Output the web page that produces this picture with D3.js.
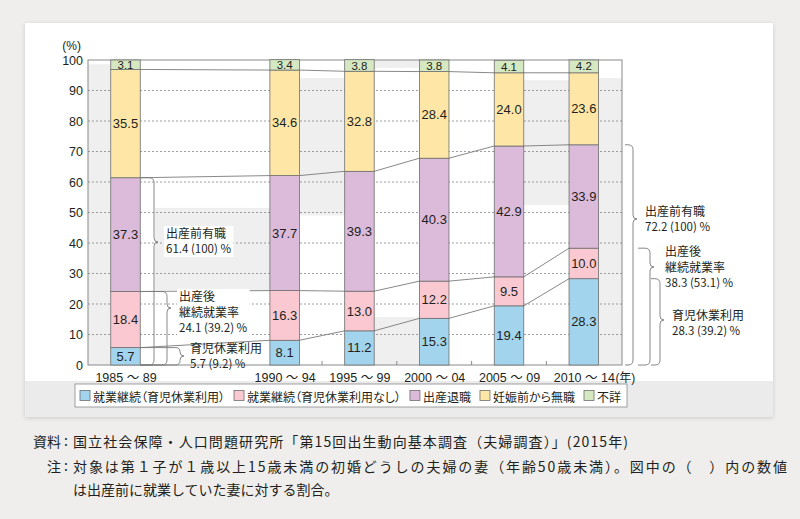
<!DOCTYPE html>
<html><head><meta charset="utf-8">
<script src="https://cdn.jsdelivr.net/npm/d3@7"></script>
<style>
html,body{margin:0;padding:0;background:#efeeec;}
svg{display:block;}
text{font-family:"Liberation Sans","Noto Sans CJK JP",sans-serif;fill:#231f20;}
.jp{font-family:"Noto Sans CJK JP",sans-serif;}
.palt{font-feature-settings:"palt";}
</style></head><body>
<svg id="c" width="800" height="519"></svg>
<script>
// ---------- data ----------
const periods = ["1985～89","1990～94","1995～99","2000～04","2005～09","2010～14"];
const yearSuffix = "(年)";
const seriesNames = ["就業継続（育児休業利用）","就業継続（育児休業利用なし）","出産退職","妊娠前から無職","不詳"];
const leaveUse    = [5.7, 8.1, 11.2, 15.3, 19.4, 28.3];
const noLeave     = [18.4, 16.3, 13.0, 12.2, 9.5, 10.0];
const quitAtBirth = [37.3, 37.7, 39.3, 40.3, 42.9, 33.9];
const noJobBefore = [35.5, 34.6, 32.8, 28.4, 24.0, 23.6];
const unknown     = [3.1, 3.4, 3.8, 3.8, 4.1, 4.2];
const yTicks = [0,10,20,30,40,50,60,70,80,90,100];
const seriesColors = ["#a3d4ee","#f9c8d0","#dcbad9","#fee7a6","#d5e8c1"];
const leftNotes  = [["出産前有職","61.4 (100) %"],["出産後","継続就業率","24.1 (39.2) %"],["育児休業利用","5.7 (9.2) %"]];
const rightNotes = [["出産前有職","72.2 (100) %"],["出産後","継続就業率","38.3 (53.1) %"],["育児休業利用","28.3 (39.2) %"]];
const sourceLabel = "資料";
const noteLabel = "注";
const sourceLine = "国立社会保障・人口問題研究所「第15回出生動向基本調査（夫婦調査）」(2015年)";
const noteLines = ["対象は第１子が１歳以上15歳未満の初婚どうしの夫婦の妻（年齢50歳未満）。図中の（　）内の数値","は出産前に就業していた妻に対する割合。"];

// ---------- layout ----------
const svg = d3.select("#c");
const defs = svg.append("defs");
const f = defs.append("filter").attr("id","sh").attr("x","-5%").attr("y","-5%").attr("width","110%").attr("height","115%");
f.append("feDropShadow").attr("dx",0).attr("dy",1).attr("stdDeviation",2).attr("flood-color","#000").attr("flood-opacity",0.15);

svg.append("rect").attr("x",25).attr("y",23).attr("width",748).attr("height",394).attr("fill","#fff").attr("filter","url(#sh)");
svg.append("rect").attr("x",25).attr("y",381).attr("width",748).attr("height",36).attr("fill","#ebebeb");

const plot = {l:88, r:622, t:60, b:365};
const y = d3.scaleLinear().domain([0,100]).range([plot.b, plot.t]);
const FIRST_GAP = 1.128;
const slot = i => i === 0 ? 0 : i + FIRST_GAP;
const xPos = d3.scaleLinear().domain([0, slot(periods.length-1)]).range([125.5, 583.8]);
const BW = 29.5;
const cx = i => xPos(slot(i));

const table = periods.map((p,i)=>({period:p, s0:leaveUse[i], s1:noLeave[i], s2:quitAtBirth[i], s3:noJobBefore[i], s4:unknown[i]}));
const keys = ["s0","s1","s2","s3","s4"];
const stacked = d3.stack().keys(keys)(table);

// grey decorative patches (gap k = between bar k-1 and bar k)
const patches = [
  {gap:0, v0:0, v1:98.6},
  {gap:1, v0:24.6, v1:51.5, xs:155},
  {gap:2, v0:49, v1:94.1},
  {gap:3, v0:97.4, v1:100},
  {gap:3, v0:0, v1:15.7},
  {gap:5, v0:52.5, v1:93.4},
  {gap:6, v0:0, v1:94.1}
];
const gapL = k => k===0 ? plot.l : cx(k-1)+BW/2;
const gapR = k => k===periods.length ? plot.r : cx(k)-BW/2;
svg.append("g").selectAll("rect").data(patches).join("rect")
  .attr("x", d => d.xs || gapL(d.gap))
  .attr("width", d => gapR(d.gap) - (d.xs || gapL(d.gap)))
  .attr("y", d => y(d.v1)).attr("height", d => y(d.v0)-y(d.v1))
  .attr("fill","#efefef");

// grid
svg.append("g").selectAll("line").data(yTicks.filter(t=>t>0 && t<100)).join("line")
  .attr("x1",plot.l).attr("x2",plot.r).attr("y1",d=>y(d)).attr("y2",d=>y(d))
  .attr("stroke","#858585").attr("stroke-width",0.8).attr("stroke-dasharray","2,2");

// connecting lines
const conn = svg.append("g").attr("fill","none").attr("stroke","#7a7a7a").attr("stroke-width",0.9);
for (let j=0;j<4;j++){
  for (let i=0;i<periods.length-1;i++){
    conn.append("line")
      .attr("x1",cx(i)+BW/2).attr("y1",y(stacked[j][i][1]))
      .attr("x2",cx(i+1)-BW/2).attr("y2",y(stacked[j][i+1][1]));
  }
}

// plot frame
svg.append("rect").attr("x",plot.l).attr("y",plot.t).attr("width",plot.r-plot.l).attr("height",plot.b-plot.t)
  .attr("fill","none").attr("stroke","#8a8a8a").attr("stroke-width",1);

// bars
const layers = svg.append("g").selectAll("g").data(stacked).join("g").attr("fill",(d,j)=>seriesColors[j]);
layers.selectAll("rect").data(d=>d).join("rect")
  .attr("x",(d,i)=>cx(i)-BW/2).attr("width",BW)
  .attr("y",d=>y(d[1])).attr("height",d=>y(d[0])-y(d[1]))
  .attr("stroke","#6e6e6e").attr("stroke-width",0.8);

// value labels
stacked.forEach((layer,j)=>{
  svg.append("g").selectAll("text").data(layer).join("text")
    .attr("x",(d,i)=>cx(i)).attr("y",d=>y((d[0]+Math.min(d[1],100))/2))
    .attr("text-anchor","middle").attr("dominant-baseline","central")
    .attr("font-size", j===4 ? 11.5 : 13)
    .text(d=>d3.format(".1f")(d[1]-d[0]));
});

// y axis
const yAxis = svg.append("g").attr("transform",`translate(${plot.l},0)`)
  .call(d3.axisLeft(y).tickValues(yTicks).tickSize(0).tickPadding(5));
yAxis.select(".domain").remove();
yAxis.selectAll("text").attr("font-size",12.5).attr("font-family",null).attr("fill","#231f20");
svg.append("text").attr("x",81).attr("y",50).attr("text-anchor","end").attr("font-size",12).text("(%)");

// x axis
const xAxis = svg.append("g").attr("transform",`translate(0,${plot.b})`)
  .call(d3.axisBottom(xPos).tickValues(periods.map((_,i)=>slot(i))).tickFormat((d,i)=>periods[i].replace("～"," ～ ")).tickSize(0).tickPadding(8));
xAxis.select(".domain").remove();
xAxis.selectAll("text").attr("font-size",12.5).attr("font-family",null).attr("fill","#231f20");
const lastLab = xAxis.selectAll("text").nodes()[periods.length-1];
const lw = lastLab.getComputedTextLength();
svg.append("text").attr("x",cx(periods.length-1)+lw/2+1).attr("y",plot.b+8).attr("dy","0.71em")
  .attr("font-size",12).text(yearSuffix);
// small ticks between bars
svg.append("g").selectAll("line").data(d3.range(1,periods.length-1)).join("line")
  .attr("x1",i=>(cx(i)+cx(i+1))/2).attr("x2",i=>(cx(i)+cx(i+1))/2)
  .attr("y1",plot.b).attr("y2",plot.b-4).attr("stroke","#8a8a8a");

// braces
function brace(x0,xv,xt,yTop,yTip,yBot){
  const a = yTip-yTop, b = yBot-yTip;
  const r1 = Math.min(5,a/2), q1 = Math.min(4,a/2);
  const r2 = Math.min(5,b/2), q2 = Math.min(4,b/2);
  return `M${x0},${yTop} L${xv-r1},${yTop} Q${xv},${yTop} ${xv},${yTop+r1} L${xv},${yTip-q1} Q${xv},${yTip} ${xt},${yTip} Q${xv},${yTip} ${xv},${yTip+q2} L${xv},${yBot-r2} Q${xv},${yBot} ${xv-r2},${yBot} L${x0},${yBot}`;
}
const leftLayout = [
  {xv:154, xt:158, tip:242, tx:166, ty:[234,249], bg:true},
  {xv:167, xt:171, tip:308, tx:179, ty:[297,313,328], bg:true},
  {xv:180, xt:184, tip:356, tx:190, ty:[349,364], bg:false}
];
const rightLayout = [
  {x0:625, xv:633, xt:637, tip:219, tx:645, ty:[212,227]},
  {x0:638, xv:650, xt:654, tip:267, tx:665, ty:[252,268,283]},
  {x0:651, xv:660, xt:664, tip:320, tx:672, ty:[316,331]}
];
const braceG = svg.append("g");
function drawNotes(notes, layout, barIdx, x0def){
  notes.forEach((lines,k)=>{
    const L = layout[k];
    const topVal = stacked[2-k][barIdx][1];
    const x0 = L.x0 !== undefined ? L.x0 : x0def;
    braceG.append("path").attr("d",brace(x0,L.xv,L.xt,y(topVal),L.tip,y(0)))
      .attr("fill","none").attr("stroke","#7a7a7a").attr("stroke-width",0.9);
    const g = braceG.append("g");
    const txt = g.append("text").attr("class","jp");
    lines.forEach((t,m)=>{
      txt.append("tspan").attr("x",L.tx).attr("y",L.ty[m]+4.2)
        .attr("font-size", m===lines.length-1 ? 11.5 : 12).text(t);
    });
    if (L.bg){
      const bb = g.node().getBBox();
      g.insert("rect","text").attr("x",bb.x-2).attr("y",L.ty[0]-8).attr("width",bb.width+4)
        .attr("height",L.ty[lines.length-1]-L.ty[0]+16).attr("fill","#fff");
    }
  });
}
drawNotes(leftNotes, leftLayout, 0, cx(0)+BW/2);
drawNotes(rightNotes, rightLayout, periods.length-1, 0);

// legend
const lg = svg.append("g");
const lgBox = lg.append("rect").attr("y",384).attr("height",23).attr("fill","#fff").attr("stroke","#8a8a8a").attr("stroke-width",0.8);
let lx = 80;
seriesNames.forEach((n,j)=>{
  lg.append("rect").attr("x",lx).attr("y",390.5).attr("width",10).attr("height",10)
    .attr("fill",seriesColors[j]).attr("stroke","#6e6e6e").attr("stroke-width",0.8);
  const t = lg.append("text").attr("class","jp palt").attr("x",lx+13).attr("y",396).attr("dominant-baseline","central")
    .attr("font-size",12).text(n);
  lx += 13 + t.node().getComputedTextLength() + 9;
});
lgBox.attr("x",75).attr("width",lx-75-3);

// source / note
const src = svg.append("g");
function srcText(x,yy,t,anchor,cls){ return src.append("text").attr("class",cls||"jp").attr("x",x).attr("y",yy).attr("dominant-baseline","central").attr("font-size",14).attr("text-anchor",anchor||"start").text(t); }
srcText(61,441,sourceLabel,"end"); srcText(66,440,":","middle","");
srcText(61,466,noteLabel,"end"); srcText(66,465,":","middle","");
srcText(73,441,sourceLine).attr("textLength",555).attr("lengthAdjust","spacing");
srcText(73,466,noteLines[0]).attr("textLength",714).attr("lengthAdjust","spacing");
srcText(73,489,noteLines[1]);
</script>
</body></html>
